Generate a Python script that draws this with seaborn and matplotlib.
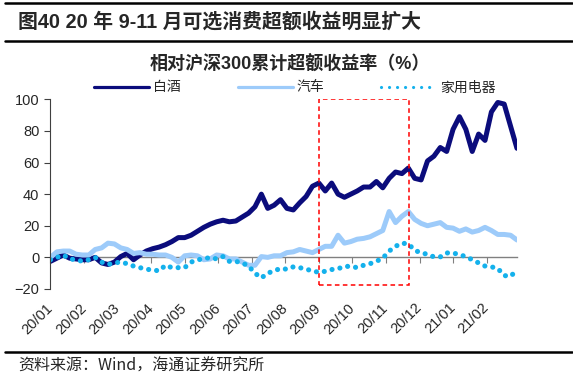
import numpy as np
import pandas as pd
import matplotlib
matplotlib.use("Agg")
import matplotlib.pyplot as plt
from matplotlib.lines import Line2D
from matplotlib.patches import Rectangle
import seaborn as sns

# trading-day index, sampled every 4 sessions from 2020-01-02
step = 4
baijiu = [-2.5, -0.5, 1.5, -0.5, -1, -1.5, -1.5, 0, -3.5, -4.5,
          -3, 0.5, 2.5, -1.5, 1.5, 4, 5.5, 6.5, 8, 10,
          12.5, 12.5, 14, 16.5, 19, 21, 22.5, 23.5, 22.5, 23,
          25.5, 28, 32, 40, 31, 33, 36.5, 31, 30, 34.5,
          38.5, 45, 47, 42, 47, 40, 38, 40, 42, 44.5,
          44.5, 48, 44, 50, 54, 53, 56.5, 50, 49, 61,
          64, 69.5, 67, 81, 89, 81, 67, 78, 74, 92,
          98, 97, 83, 69]
qiche = [0, 3.5, 4, 4, 2, 1.5, 1.5, 5, 6, 9,
         8.5, 6, 5, 2.5, 3, 2, 2, 1.5, 1.5, 0,
         -3, 1, 1.5, 1, -1.5, -1, 1.5, 1, -1, -1,
         -3, -5, -5, 0.5, 0, 1, 1, 3, 3.5, 5,
         4, 3, 5, 7, 7, 14, 9, 10, 11.5, 12,
         13, 15, 17, 29, 22, 26, 29, 24, 21.5, 20,
         21, 22, 19, 18.5, 16.5, 18, 16, 17, 19, 17,
         14.5, 14.5, 14, 11]
jiadian = [-1.5, 0, 1.5, -1, -1.5, -2.5, -1.5, 0, -3, -4.5,
           -3.5, -3, -4, -5.5, -6.5, -7.5, -8, -8.5, -5, -6.5,
           -6.5, -6.5, -3, -1.5, -1, 0, -1, 0.5, -2.5, -2.5,
           -3.5, -5.5, -10, -13, -10, -8.5, -7, -7.5, -6, -6.5,
           -7.5, -8.5, -9.5, -8.8, -7.7, -7.2, -5.7, -5.7, -6.5, -5,
           -4, -2.5, -0.5, 4, 7, 9, 8.5, 4.5, 2.8, 2,
           0.3, 0.3, 2.8, 2.8, 1.7, 0.5, -1.5, -3.5, -5.5, -6,
           -7, -11.5, -12, -8]
month_labels = ["20/01", "20/02", "20/03", "20/04", "20/05", "20/06", "20/07",
                "20/08", "20/09", "20/10", "20/11", "20/12", "21/01", "21/02"]

day = np.arange(len(baijiu)) * step
df = pd.DataFrame({"day": day, "白酒": baijiu, "汽车": qiche, "家用电器": jiadian})

sns.set_style("white")
plt.rcParams["font.family"] = ["Liberation Sans", "Noto Sans CJK SC"]
cjk = ["Noto Sans CJK SC", "DejaVu Sans"]

fig = plt.figure(figsize=(5.73, 3.79), dpi=100)
ax = fig.add_axes([0.0881, 0.2375, 0.8141, 0.5005])

sns.lineplot(data=df, x="day", y="白酒", ax=ax, color="#0B0C7C", lw=3.6,
             solid_capstyle="round", label="白酒")
sns.lineplot(data=df, x="day", y="汽车", ax=ax, color="#9DCBFA", lw=3.6,
             solid_capstyle="round", label="汽车")
sns.lineplot(data=df, x="day", y="家用电器", ax=ax, color="#14B1EC", lw=3.7,
             linestyle=(0, (0.01, 1.55)), dash_capstyle="round", label="家用电器")

ax.add_patch(Rectangle((168, -17.5), 56.7, 117.5, fill=False, edgecolor="#FF0000",
                       lw=1.1, linestyle=(0, (3, 2.2)), zorder=5))

ax.set_xlim(0, 292)
ax.set_ylim(-20, 100)
ax.set_yticks(range(-20, 101, 20))
ax.set_xlabel("")
ax.set_ylabel("")

ticks = np.arange(len(month_labels)) * 21
ax.set_xticks(ticks)
ax.set_xticklabels(month_labels, rotation=45, ha="right", va="center",
                   rotation_mode="anchor", fontsize=10.5)
ax.tick_params(axis="x", length=0, pad=12)
ax.tick_params(axis="y", length=4, width=0.8, color="#404040", labelsize=10.5,
               pad=4, left=True, direction="out")

for s in ["top", "right", "bottom"]:
    ax.spines[s].set_visible(False)
ax.spines["left"].set_color("#404040")
ax.spines["left"].set_linewidth(0.8)

# zero line with month ticks
zero_ax = ax.secondary_xaxis(1 / 6)
zero_ax.set_xticks(ticks)
zero_ax.set_xticklabels([])
zero_ax.tick_params(length=4, width=0.8, color="#808080", direction="out")
zero_ax.spines["bottom"].set_color("#808080")
zero_ax.spines["bottom"].set_linewidth(1.0)

leg = ax.legend(loc="center", bbox_to_anchor=(295 / 573, 1 - 87.5 / 379),
                bbox_transform=fig.transFigure, ncol=3, frameon=False,
                handlelength=3.95, handletextpad=0.3, columnspacing=4.1,
                prop={"family": cjk, "size": 10})
for line in leg.get_lines():
    line.set_linewidth(2.3)
leg.get_lines()[2].set_linestyle((0, (0.01, 2.5)))

fig.text(18 / 573, 1 - 22 / 379, "图40 20 年 9-11 月可选消费超额收益明显扩大",
         fontsize=14.3, fontweight="bold", va="center", ha="left",
         family=["Liberation Sans", "Noto Sans CJK SC"])
fig.text(290 / 573, 1 - 65 / 379, "相对沪深300累计超额收益率（%）",
         fontsize=13, fontweight="bold", va="center", ha="center",
         family=["Liberation Sans", "Noto Sans CJK SC"])
fig.text(18 / 573, 1 - 366 / 379, "资料来源：Wind，海通证券研究所",
         fontsize=11.5, va="center", ha="left",
         family=["Noto Sans CJK SC", "Liberation Sans"])

for yy in [1 - 3 / 379, 1 - 41 / 379, 1 - 352 / 379]:
    fig.add_artist(Line2D([0.009, 0.998], [yy, yy], transform=fig.transFigure,
                          color="black", lw=1.8))

fig.savefig("out.png", dpi=100)
